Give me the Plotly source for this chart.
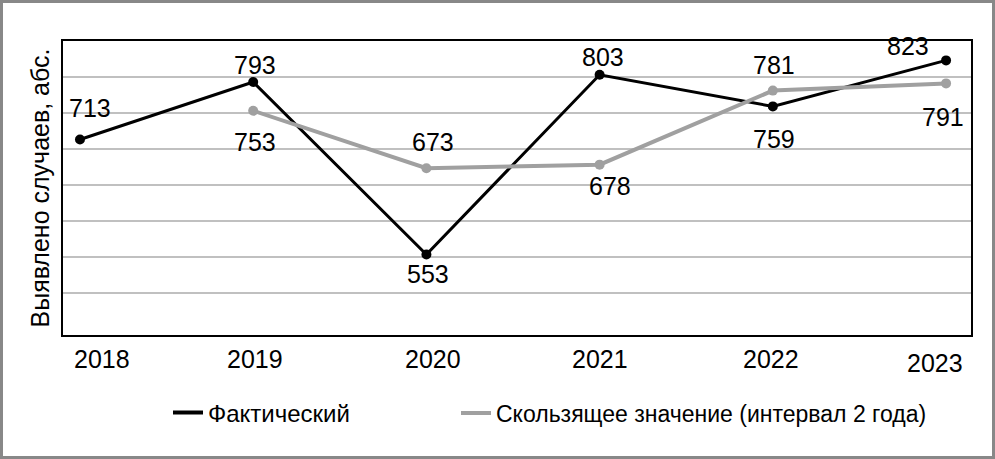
import plotly.graph_objects as go

years = ['2018', '2019', '2020', '2021', '2022', '2023']
fakt = [713, 793, 553, 803, 759, 823]
skolz = [None, 753, 673, 678, 781, 791]
grid_vals = list(range(500, 851, 50))

W, H = 995, 459
ml, mr, mt, mb = 63, 24, 41, 124
pw, ph = W - ml - mr, H - mt - mb

x = list(range(len(years)))
font = 'Liberation Sans, Arial, sans-serif'
c_fakt = 'black'
c_skolz = '#a0a0a0'

fig = go.Figure()
fig.add_trace(go.Scatter(
    x=x, y=fakt, mode='lines+markers', showlegend=False,
    line=dict(color=c_fakt, width=3), marker=dict(color=c_fakt, size=10),
))
fig.add_trace(go.Scatter(
    x=x, y=skolz, mode='lines+markers', showlegend=False,
    line=dict(color=c_skolz, width=4), marker=dict(color=c_skolz, size=10),
))
# элементы легенды (только линия, без маркера)
fig.add_trace(go.Scatter(x=[None], y=[None], mode='lines', name='Фактический',
                         line=dict(color=c_fakt, width=4), legend='legend'))
fig.add_trace(go.Scatter(x=[None], y=[None], mode='lines', name='Скользящее значение (интервал 2 года)',
                         line=dict(color=c_skolz, width=4), legend='legend2'))

# подписи значений (смещения в пикселях)
lab_f = [(10, -31), (2, -17), (2, 20), (3, -18), (1, 33), (-38, -14)]
lab_s = [None, (2, 31), (7, -26), (10, 21), (1, -26), (-3, 34)]
for i, v in enumerate(fakt):
    dx, dy = lab_f[i]
    fig.add_annotation(x=i, y=v, text=str(v), showarrow=False, xshift=dx, yshift=-dy,
                       font=dict(size=25, color='black', family=font))
for i, v in enumerate(skolz):
    if v is None:
        continue
    dx, dy = lab_s[i]
    fig.add_annotation(x=i, y=v, text=str(v), showarrow=False, xshift=dx, yshift=-dy,
                       font=dict(size=25, color='black', family=font))

# подписи годов
year_shift = [(22, 0), (2, 0), (7, 0), (0, 0), (-2, 0), (-11, 4)]
for i, yr in enumerate(years):
    dx, dy = year_shift[i]
    fig.add_annotation(x=i, y=0, yref='paper', text=yr, showarrow=False,
                       xshift=dx, yshift=-24 - dy, yanchor='middle',
                       font=dict(size=25, color='black', family=font))

# рамка вокруг всего рисунка
fig.add_shape(type='rect', xref='paper', yref='paper',
              x0=-(ml - 1.5) / pw, x1=1 + (mr - 1.5) / pw,
              y0=-(mb - 1.5) / ph, y1=1 + (mt - 1.5) / ph,
              line=dict(color='#888888', width=3))

leg_y = -(413 - 335) / ph
fig.update_layout(
    width=W, height=H,
    margin=dict(l=ml, r=mr, t=mt, b=mb, autoexpand=False),
    plot_bgcolor='white', paper_bgcolor='white',
    font=dict(family=font, color='black'),
    showlegend=True,
    legend=dict(x=(168 - ml) / pw, xanchor='left', y=leg_y, yanchor='middle',
                font=dict(size=24), bgcolor='rgba(0,0,0,0)'),
    legend2=dict(x=(456 - ml) / pw, xanchor='left', y=leg_y, yanchor='middle',
                 font=dict(size=23), bgcolor='rgba(0,0,0,0)'),
    xaxis=dict(range=[-0.098, 5.144], showticklabels=False, showgrid=False, zeroline=False,
               showline=True, linecolor='black', linewidth=2, mirror=True),
    yaxis=dict(range=[441, 850], tickmode='array', tickvals=grid_vals, showticklabels=False,
               showgrid=True, gridcolor='#c0c0c0', gridwidth=1.5, zeroline=False,
               showline=True, linecolor='black', linewidth=2, mirror=True,
               title=dict(text='Выявлено случаев, абс.', font=dict(size=25), standoff=4)),
)

fig.write_html('out.html', config={'displayModeBar': False},
               post_script="document.body.style.margin='0';document.body.style.overflow='hidden';")
